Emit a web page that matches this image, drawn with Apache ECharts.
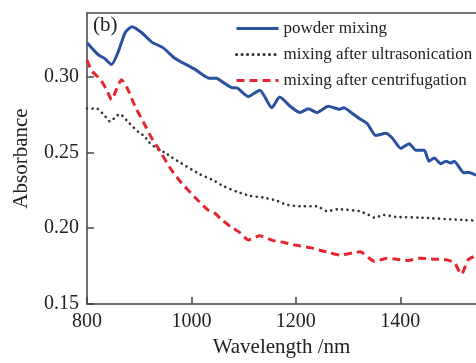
<!DOCTYPE html>
<html>
<head>
<meta charset="utf-8">
<script src="https://cdn.jsdelivr.net/npm/echarts@6/dist/echarts.min.js"></script>
<style>
  html, body { margin: 0; padding: 0; background: #fff; }
  #chart { width: 476px; height: 363px; }
</style>
</head>
<body>
<div id="chart"></div>
<script>
  // powder mixing
  const powderX = [800, 822, 834, 847, 860, 873, 886, 905, 924, 946, 968, 1007, 1035, 1048, 1060, 1077, 1087, 1109, 1131, 1154, 1169, 1189, 1208, 1224, 1240, 1262, 1284, 1292, 1302, 1321, 1337, 1353, 1372, 1385, 1401, 1417, 1430, 1446, 1455, 1465, 1478, 1487, 1497, 1503, 1522, 1532, 1545]
  const powderY = [0.3224, 0.3143, 0.312, 0.308, 0.3165, 0.329, 0.333, 0.329, 0.3228, 0.319, 0.3122, 0.3048, 0.2989, 0.299, 0.2964, 0.2928, 0.2926, 0.2869, 0.2911, 0.2795, 0.2865, 0.2805, 0.2763, 0.2789, 0.2763, 0.2805, 0.2785, 0.2795, 0.2774, 0.2725, 0.2689, 0.2611, 0.2626, 0.2594, 0.2527, 0.2558, 0.2514, 0.2514, 0.2442, 0.2463, 0.2425, 0.2442, 0.243, 0.2442, 0.2366, 0.2368, 0.235]
  // mixing after ultrasonication
  const ultraX = [800, 819, 834, 844, 857, 863, 879, 898, 911, 917, 936, 949, 962, 981, 1013, 1042, 1061, 1087, 1112, 1137, 1163, 1182, 1208, 1240, 1259, 1281, 1321, 1340, 1350, 1369, 1391, 1436, 1519, 1545]
  const ultraY = [0.279, 0.2789, 0.2742, 0.2704, 0.2742, 0.2753, 0.27, 0.2636, 0.2605, 0.2573, 0.252, 0.25, 0.2468, 0.2428, 0.2362, 0.2316, 0.2278, 0.2241, 0.2214, 0.2203, 0.2182, 0.2155, 0.2145, 0.2145, 0.2113, 0.2125, 0.2113, 0.2087, 0.207, 0.2087, 0.2075, 0.207, 0.2055, 0.205]
  // mixing after centrifugation
  const centriX = [800, 809, 825, 838, 847, 857, 866, 876, 892, 908, 924, 936, 943, 962, 981, 1007, 1032, 1045, 1055, 1074, 1093, 1109, 1131, 1157, 1176, 1201, 1227, 1246, 1265, 1284, 1310, 1323, 1351, 1374, 1393, 1415, 1437, 1463, 1488, 1504, 1517, 1530, 1543]
  const centriY = [0.311, 0.3038, 0.2985, 0.2911, 0.2848, 0.2921, 0.298, 0.2932, 0.2805, 0.27, 0.2594, 0.2531, 0.2489, 0.2383, 0.2298, 0.2203, 0.2119, 0.2098, 0.2066, 0.2013, 0.1971, 0.1923, 0.195, 0.1918, 0.1907, 0.1887, 0.1872, 0.1855, 0.1838, 0.1823, 0.1838, 0.1844, 0.1781, 0.1802, 0.1796, 0.1787, 0.1802, 0.1796, 0.1792, 0.1771, 0.1696, 0.1792, 0.1817]

  const seriesNames = ['powder mixing', 'mixing after ultrasonication', 'mixing after centrifugation']

  function pairs (xs, ys) {
    return xs.map((x, i) => [x, ys[i]])
  }

  const serif = 'Liberation Serif'
  const axisColor = '#444'

  let option = {
    animation: false,
    backgroundColor: '#fff',
    grid: { left: 87, right: 0, top: 13, bottom: 47 },
    legend: {
      orient: 'vertical',
      left: 230,
      top: 15,
      itemWidth: 42,
      itemHeight: 14,
      itemGap: 9,
      itemStyle: { opacity: 0 },
      lineStyle: { width: 3 },
      textStyle: { fontFamily: serif, fontSize: 17, color: '#222' },
      data: seriesNames
    },
    xAxis: [{
      type: 'value',
      min: 800,
      max: 1545,
      interval: 200,
      name: 'Wavelength /nm',
      nameLocation: 'middle',
      nameGap: 33,
      nameTextStyle: { fontFamily: serif, fontSize: 21, color: '#222' },
      axisLine: { lineStyle: { color: axisColor, width: 1.5 } },
      axisTick: { inside: true, length: 7, lineStyle: { color: axisColor, width: 1.5 } },
      axisLabel: {
        fontFamily: serif, fontSize: 20, color: '#222', margin: 8, showMaxLabel: false,
        formatter: v => String(v)
      },
      splitLine: { show: false }
    }, {
      type: 'value',
      position: 'top',
      min: 800,
      max: 1545,
      axisLine: { show: true, lineStyle: { color: axisColor, width: 1.5 } },
      axisTick: { show: false },
      axisLabel: { show: false },
      splitLine: { show: false }
    }],
    yAxis: {
      type: 'value',
      min: 0.15,
      max: 0.342,
      interval: 0.05,
      name: 'Absorbance',
      nameLocation: 'middle',
      nameGap: 55,
      nameTextStyle: { fontFamily: serif, fontSize: 21, color: '#222' },
      axisLine: { show: true, lineStyle: { color: axisColor, width: 1.5 } },
      axisTick: { inside: true, length: 7, lineStyle: { color: axisColor, width: 1.5 } },
      axisLabel: {
        fontFamily: serif, fontSize: 20, color: '#222', margin: 8, showMaxLabel: false,
        formatter: v => v.toFixed(2)
      },
      splitLine: { show: false }
    },
    graphic: [{
      type: 'text',
      left: 93,
      top: 15,
      style: { text: '(b)', font: '21px "Liberation Serif"', fill: '#222' }
    }],
    series: [{
      name: seriesNames[0],
      type: 'line',
      symbol: 'none',
      smooth: 0.2,
      lineStyle: { color: '#2a50a2', width: 3 },
      itemStyle: { color: '#2a50a2' },
      data: pairs(powderX, powderY)
    }, {
      name: seriesNames[1],
      type: 'line',
      symbol: 'none',
      smooth: 0.2,
      lineStyle: { color: '#333', width: 2.6, type: [0.1, 5.4], cap: 'round' },
      itemStyle: { color: '#333' },
      data: pairs(ultraX, ultraY)
    }, {
      name: seriesNames[2],
      type: 'line',
      symbol: 'none',
      smooth: 0.2,
      lineStyle: { color: '#e6262f', width: 3, type: [8, 5] },
      itemStyle: { color: '#e6262f' },
      data: pairs(centriX, centriY)
    }]
  }

  let myChart = echarts.init(document.getElementById('chart'))
  myChart.setOption(option)
</script>
</body>
</html>
